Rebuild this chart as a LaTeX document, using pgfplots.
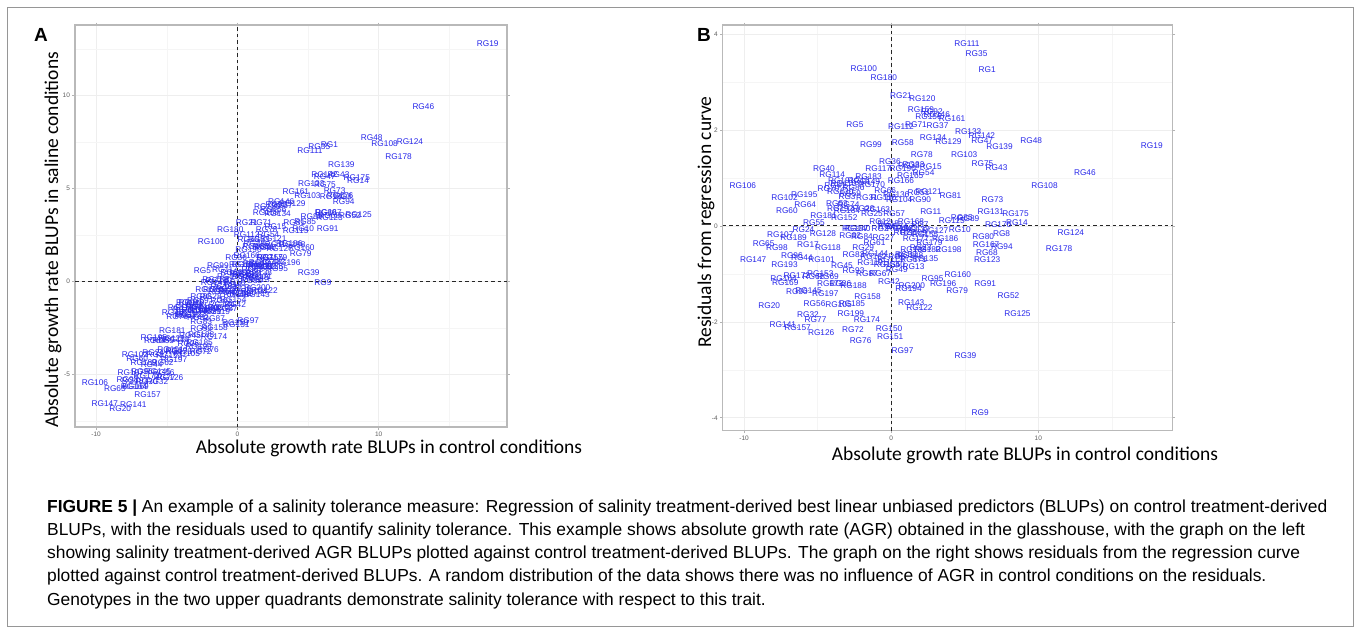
\documentclass[border=0pt]{standalone}
\usepackage{pgfplots}
\pgfplotsset{compat=1.18}
\usepackage{pgfplotstable}
\usepackage{fontspec}
\setmainfont{Liberation Sans}
\newfontfamily\capfont{Liberation Sans}
\newfontfamily\calfont{Carlito}
\newfontfamily\labfont{Liberation Sans}
\definecolor{labblue}{RGB}{40,40,235}
\definecolor{framegray}{RGB}{150,150,150}
\pgfplotstableread{
x ya r lab
5.14 7.05 3.80 RG111
5.80 7.26 3.59 RG35
6.52 7.38 3.26 RG1
-1.86 2.14 3.28 RG100
-0.50 2.81 3.09 RG180
0.66 3.15 2.71 RG21
2.11 4.01 2.66 RG120
2.02 3.72 2.42 RG159
2.76 4.15 2.39 RG92
2.54 3.90 2.28 RG156
3.10 4.30 2.33 RG146
4.14 4.86 2.23 RG161
-2.47 0.60 2.12 RG5
0.66 2.51 2.07 RG112
1.68 3.20 2.12 RG71
3.15 4.10 2.09 RG37
5.23 5.28 1.97 RG133
6.16 5.77 1.88 RG142
6.18 5.67 1.77 RG47
7.36 6.29 1.65 RG139
9.51 7.77 1.78 RG48
17.71 12.80 1.67 RG19
2.85 3.67 1.85 RG134
3.89 4.22 1.75 RG129
-1.38 0.86 1.70 RG99
0.79 2.26 1.73 RG58
2.08 2.81 1.48 RG78
4.96 4.62 1.48 RG103
6.20 5.21 1.29 RG75
7.16 5.74 1.22 RG43
-0.09 1.32 1.35 RG36
1.52 2.26 1.28 RG33
2.69 2.95 1.23 RG15
-4.57 -1.64 1.20 RG40
-0.88 0.67 1.19 RG117
0.79 1.73 1.20 RG190
1.29 1.89 1.05 RG165
2.20 2.52 1.11 RG54
-4.01 -1.42 1.06 RG114
0.66 1.38 0.94 RG166
13.16 9.39 1.11 RG46
10.42 7.40 0.84 RG108
-10.08 -5.44 0.85 RG106
-1.54 0.09 1.03 RG183
-1.65 -0.07 0.93 RG149
-1.31 0.08 0.87 RG170
-3.24 -1.11 0.89 RG110
-4.26 -1.87 0.77 RG70
-3.46 -1.42 0.72 RG130
-2.79 -1.04 0.68 RG59
-2.56 -0.79 0.79 RG86
-0.41 0.50 0.73 RG66
-1.65 -0.41 0.59 RG31
-0.52 0.28 0.58 RG116
0.34 0.90 0.66 RG136
0.54 0.91 0.54 RG104
1.97 1.81 0.54 RG90
1.86 1.90 0.70 RG51
2.54 2.34 0.72 RG121
4.03 3.19 0.63 RG81
6.88 4.88 0.54 RG73
-7.25 -3.92 0.60 RG102
-5.91 -3.02 0.66 RG195
-5.84 -3.18 0.45 RG64
-7.09 -4.11 0.31 RG60
-4.60 -2.63 0.22 RG181
-3.19 -1.79 0.18 RG152
-3.69 -1.81 0.47 RG53
-3.46 -1.77 0.37 RG192
-3.01 -1.55 0.31 RG184
-1.88 -0.79 0.36 RG28
-0.97 -0.25 0.33 RG163
-1.31 -0.53 0.26 RG25
0.20 0.42 0.26 RG57
2.69 2.01 0.29 RG11
6.77 4.57 0.30 RG131
8.45 5.59 0.26 RG175
4.12 2.72 0.11 RG115
4.80 3.22 0.18 RG85
5.25 3.48 0.16 RG89
7.27 4.61 0.02 RG176
8.54 5.44 0.06 RG14
12.21 7.54 -0.15 RG124
11.41 6.71 -0.47 RG178
4.66 2.88 -0.07 RG10
2.99 1.80 -0.10 RG127
3.67 2.07 -0.26 RG186
1.68 0.82 -0.26 RG177
1.34 0.96 0.09 RG168
-0.75 -0.36 0.08 RG12
-0.29 -0.16 -0.01 RG4
0.38 0.26 -0.01 RG34
1.06 0.64 -0.05 RG63
1.74 1.04 -0.08 RG137
-0.75 -0.50 -0.06 RG2
2.31 1.29 -0.19 RG155
1.52 0.83 -0.15 RG109
-2.45 -1.57 -0.06 RG187
-2.79 -1.93 -0.21 RG82
-1.99 -1.44 -0.22 RG84
-0.52 -0.54 -0.24 RG27
-1.13 -1.03 -0.35 RG61
6.25 3.73 -0.22 RG80
7.50 4.56 -0.17 RG8
6.45 3.69 -0.38 RG167
7.52 4.32 -0.43 RG94
6.50 3.55 -0.56 RG68
6.52 3.42 -0.70 RG123
3.89 1.97 -0.50 RG198
2.47 1.08 -0.50 RG182
1.52 0.49 -0.49 RG138
-5.96 -3.79 -0.08 RG24
-5.25 -3.19 0.07 RG55
-4.64 -3.05 -0.17 RG128
-7.54 -4.89 -0.19 RG107
-6.63 -4.37 -0.24 RG189
-5.66 -3.92 -0.40 RG17
-4.30 -3.12 -0.45 RG118
-8.67 -5.77 -0.36 RG65
-7.77 -5.29 -0.45 RG98
-9.38 -6.56 -0.71 RG147
-7.25 -5.33 -0.81 RG193
-6.75 -4.82 -0.62 RG96
-6.07 -4.44 -0.66 RG44
-4.73 -3.64 -0.70 RG101
-3.35 -2.89 -0.82 RG45
-2.56 -2.17 -0.59 RG83
-1.09 -1.23 -0.58 RG144
-1.43 -1.63 -0.76 RG119
-2.56 -2.51 -0.93 RG93
-1.65 -2.00 -1.00 RG87
-0.75 -1.44 -1.00 RG67
0.38 -0.37 -0.64 RG6
1.52 0.13 -0.85 RG13
2.31 0.80 -0.68 RG135
1.29 0.23 -0.61 RG148
0.38 -0.65 -0.92 RG49
-0.29 -0.96 -0.81 RG154
1.52 0.27 -0.71 RG171
-0.07 -0.72 -0.71 RG113
4.53 1.85 -1.02 RG160
2.81 0.70 -1.09 RG95
3.53 1.03 -1.21 RG196
4.48 1.49 -1.35 RG79
6.39 2.83 -1.21 RG91
7.97 3.57 -1.46 RG52
8.58 3.59 -1.82 RG125
1.40 -0.34 -1.25 RG200
1.18 -0.53 -1.30 RG194
-0.16 -1.23 -1.16 RG42
1.36 -0.71 -1.59 RG143
1.92 -0.47 -1.70 RG122
-1.61 -2.46 -1.48 RG158
-2.56 -2.83 -1.25 RG188
-3.46 -3.34 -1.20 RG26
-4.14 -3.78 -1.21 RG173
-6.41 -5.03 -1.04 RG172
-7.20 -5.66 -1.18 RG169
-7.31 -5.65 -1.10 RG164
-5.28 -4.34 -1.06 RG62
-4.82 -3.98 -0.99 RG153
-6.41 -5.37 -1.38 RG30
-5.62 -4.84 -1.35 RG145
-4.48 -4.20 -1.42 RG197
-8.29 -6.83 -1.66 RG20
-5.21 -4.87 -1.63 RG56
-3.58 -3.86 -1.65 RG105
-2.67 -3.27 -1.63 RG185
-2.74 -3.51 -1.82 RG199
-1.65 -2.95 -1.95 RG174
-5.66 -5.36 -1.84 RG32
-5.14 -5.15 -1.96 RG77
-7.36 -6.63 -2.05 RG141
-6.36 -6.08 -2.12 RG157
-4.76 -5.17 -2.22 RG126
-2.60 -3.77 -2.17 RG72
-2.08 -3.66 -2.39 RG76
-0.14 -2.20 -2.14 RG150
-0.07 -2.31 -2.30 RG151
0.77 -2.10 -2.61 RG97
5.05 0.49 -2.71 RG39
6.05 -0.07 -3.89 RG9
1.96 1.29 0.03 RG7
-3.00 -1.23 0.62 RG3
-2.20 -0.40 0.95 RG16
-0.20 -0.05 0.05 RG18
0.90 0.44 -0.15 RG22
2.00 0.83 -0.45 RG23
-1.90 -1.61 -0.45 RG29
1.20 2.03 1.25 RG38
-3.80 -1.50 0.85 RG41
0.20 -0.64 -0.80 RG50
-4.30 -3.72 -1.05 RG69
-2.90 -1.34 0.45 RG74
1.00 0.06 -0.60 RG88
0.60 0.36 -0.05 RG132
-2.30 -1.46 -0.05 RG140
-1.20 -1.37 -0.65 RG162
2.60 1.31 -0.35 RG179
-3.40 -1.15 0.95 RG191
}\data
\pgfplotsset{
  rgpanel/.style={
    scale only axis,
    anchor=north west,
    grid=both,
    major grid style={gray!13, line width=0.6pt},
    minor grid style={gray!8, line width=0.4pt},
    axis line style={gray!55, line width=1.1pt},
    tick align=outside,
    major tick length=2.5pt,
    minor tick length=0pt,
    tick style={gray!60, line width=0.6pt},
    xtick={-10,0,10},
    minor xtick={-5,5,15},
    /pgf/number format/assume math mode=true,
    ticklabel style={font=\labfont\fontsize{6.5}{6.5}\selectfont, text=gray!75!black},
    xticklabel style={yshift=1pt},
    yticklabel style={xshift=1pt},
  },
  rglabels/.style={
    only marks, mark=*, mark size=0.01pt,
    mark options={draw=none, fill=none},
    nodes near coords,
    point meta=explicit symbolic,
    nodes near coords style={anchor=center, inner sep=0pt,
      font=\labfont\fontsize{8.3}{8.3}\selectfont, text=labblue},
  },
}
\begin{document}
\begin{tikzpicture}[x=1pt,y=1pt]
\useasboundingbox (0,0) rectangle (1360,-633);
\fill[white] (0,0) rectangle (1360,-633);
\draw[framegray, line width=1pt] (7,-7) rectangle (1353,-626);
% Panel A
\begin{axis}[rgpanel,
  at={(75pt,-25pt)}, width=432pt, height=402pt,
  xmin=-11.49, xmax=19.08, ymin=-7.81, ymax=13.8,
  ytick={-5,0,5,10},
  minor ytick={-7.5,-2.5,2.5,7.5,12.5},
]
\draw[gray!30!black, line width=1.1pt, dash pattern=on 3.5pt off 3pt] (axis cs:0,-7.81) -- (axis cs:0,13.8);
\draw[gray!30!black, line width=1.1pt, dash pattern=on 3.5pt off 3pt] (axis cs:-11.49,0) -- (axis cs:19.08,0);
\addplot[rglabels] table[x=x, y=ya, meta=lab] {\data};
\end{axis}
% Panel B
\begin{axis}[rgpanel,
  at={(722.7pt,-25pt)}, width=450pt, height=405.7pt,
  xmin=-11.45, xmax=19.13, ymin=-4.27, ymax=4.19,
  ytick={-4,-2,0,2,4},
  minor ytick={-3,-1,1,3},
]
\draw[gray!30!black, line width=1.1pt, dash pattern=on 3.5pt off 3pt] (axis cs:0,-4.27) -- (axis cs:0,4.19);
\draw[gray!30!black, line width=1.1pt, dash pattern=on 3.5pt off 3pt] (axis cs:-11.45,0) -- (axis cs:19.13,0);
\addplot[rglabels] table[x=x, y=r, meta=lab] {\data};
\end{axis}
% panel letters
\node[font=\labfont\bfseries\fontsize{19}{19}\selectfont] at (41,-35) {A};
\node[font=\labfont\bfseries\fontsize{19}{19}\selectfont] at (704,-35) {B};
% axis titles
\node[font=\calfont\fontsize{19.5}{19.5}\selectfont] at (389,-448) {Absolute growth rate BLUPs in control conditions};
\node[font=\calfont\fontsize{19.5}{19.5}\selectfont, rotate=90] at (53,-240) {Absolute growth rate BLUPs in saline conditions};
\node[font=\calfont\fontsize{19.5}{19.5}\selectfont] at (1025,-455) {Absolute growth rate BLUPs in control conditions};
\node[font=\calfont\fontsize{19.5}{19.5}\selectfont, rotate=90] at (706,-222) {Residuals from regression curve};
% caption
\begin{scope}[every node/.style={anchor=base west, inner sep=0pt, font=\capfont\fontsize{17.4}{17.4}\selectfont}]
\node at (47,-512) {{\bfseries FIGURE 5 |} An example of a salinity tolerance measure: Regression of salinity treatment-derived best linear unbiased predictors (BLUPs) on control treatment-derived};
\node at (47,-535.3) {BLUPs, with the residuals used to quantify salinity tolerance. This example shows absolute growth rate (AGR) obtained in the glasshouse, with the graph on the left};
\node at (47,-558.6) {showing salinity treatment-derived AGR BLUPs plotted against control treatment-derived BLUPs. The graph on the right shows residuals from the regression curve};
\node at (47,-581.9) {plotted against control treatment-derived BLUPs. A random distribution of the data shows there was no influence of AGR in control conditions on the residuals.};
\node at (47,-605.2) {Genotypes in the two upper quadrants demonstrate salinity tolerance with respect to this trait.};
\end{scope}
\end{tikzpicture}
\end{document}
